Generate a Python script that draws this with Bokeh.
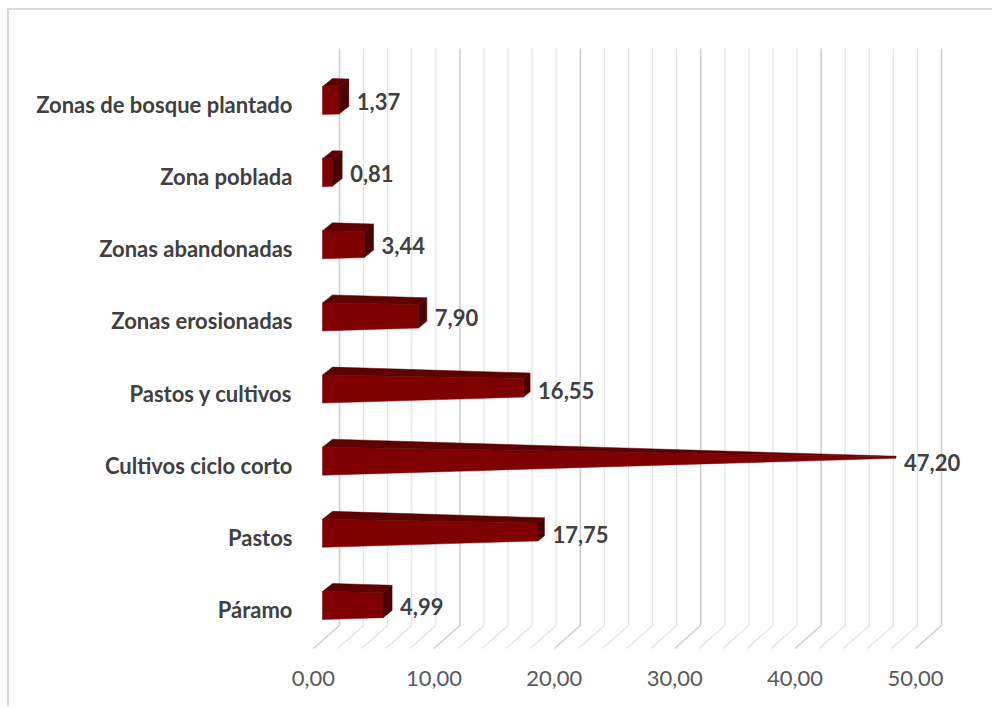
from bokeh.plotting import figure
from bokeh.models import Range1d, FixedTicker, ColumnDataSource
from bokeh.core.properties import value
from bokeh.embed import file_html
from bokeh.resources import INLINE

# ---- data ----
categories = ["Páramo", "Pastos", "Cultivos ciclo corto", "Pastos y cultivos",
              "Zonas erosionadas", "Zonas abandonadas", "Zona poblada",
              "Zonas de bosque plantado"]
values = [4.99, 17.75, 47.20, 16.55, 7.90, 3.44, 0.81, 1.37]
value_labels = ["4,99", "17,75", "47,20", "16,55", "7,90", "3,44", "0,81", "1,37"]
x_ticks = [0, 10, 20, 30, 40, 50]
x_tick_labels = ["0,00", "10,00", "20,00", "30,00", "40,00", "50,00"]
grid_step = 2
axis_max = 50

# ---- geometry / styling (pixel scale of the frame) ----
PXX = 12.04   # px per value unit
PXY = 72.14   # px per category
FONT = "Lato"

p = figure(width=985, height=698, output_backend="svg", toolbar_location=None,
           x_range=Range1d(-10 / PXX, 681 / PXX),
           y_range=Range1d(-46 / PXY, 579 / PXY),
           min_border_left=294, min_border_right=0,
           min_border_top=20, min_border_bottom=53)
p.styles = {"margin-left": "7px", "margin-top": "8px",
            "border-left": "2px solid #d9d9d9", "border-top": "2px solid #d9d9d9"}
p.outline_line_color = None
p.xgrid.grid_line_color = None
p.ygrid.grid_line_color = None
p.background_fill_color = "white"
p.border_fill_color = "white"

# ---- 3D floor + back wall gridlines ----
dx_wall = 26 / PXX
y_front = -39 / PXY
y_back = -16 / PXY
y_top = 561 / PXY
gx = list(range(0, axis_max + 1, grid_step))
maj = [g for g in gx if g % 10 == 0]
mnr = [g for g in gx if g % 10 != 0]
for group, col, lw in ((mnr, "#e3e3e3", 1.2), (maj, "#cfcfcf", 1.6)):
    xs = [[g, g + dx_wall, g + dx_wall] for g in group]
    ys = [[y_front, y_back, y_top] for g in group]
    p.multi_line(xs=xs, ys=ys, line_color=col, line_width=lw)

# ---- 3D pyramid bars (apex at axis max) ----
x0 = 9 / PXX           # bar front face start offset
ddx = 10 / PXX         # depth offset x
ddy = 8 / PXY          # depth offset y
h0 = 14 / PXY          # half height of front face at base
yc_off = 4 / PXY       # front-face centre above label centre

front_xs, front_ys, top_xs, top_ys, cap_xs, cap_ys = [], [], [], [], [], []
lab_x, lab_y = [], []
for i, v in enumerate(values):
    s = (axis_max - v) / axis_max
    cx = x0 + ddx / 2
    cy = i + yc_off + ddy / 2
    fl_x = cx - ddx / 2
    fr_x = cx + v - ddx / 2 * s
    fl_yc = cy - ddy / 2
    fr_yc = cy - ddy / 2 * s
    front_xs.append([fl_x, fr_x, fr_x, fl_x])
    front_ys.append([fl_yc - h0, fr_yc - h0 * s, fr_yc + h0 * s, fl_yc + h0])
    bl_x = cx + ddx / 2
    br_x = cx + v + ddx / 2 * s
    bl_yc = cy + ddy / 2
    br_yc = cy + ddy / 2 * s
    top_xs.append([fl_x, fr_x, br_x, bl_x])
    top_ys.append([fl_yc + h0, fr_yc + h0 * s, br_yc + h0 * s, bl_yc + h0])
    cap_xs.append([fr_x, fr_x, br_x, br_x])
    cap_ys.append([fr_yc + h0 * s, fr_yc - h0 * s, br_yc - h0 * s, br_yc + h0 * s])
    lab_x.append(br_x)
    lab_y.append(i + 3 / PXY)

p.patches(xs=front_xs, ys=front_ys, fill_color="#7f0000", line_color="#7f0000", line_width=0.5)
p.patches(xs=top_xs, ys=top_ys, fill_color="#5e0000", line_color="#5e0000", line_width=0.5)
p.patches(xs=cap_xs, ys=cap_ys, fill_color="#4a0000", line_color="#4a0000", line_width=0.5)

src = ColumnDataSource(dict(x=lab_x, y=lab_y, t=value_labels))
p.text(x="x", y="y", text="t", source=src, x_offset=8, text_baseline="middle",
       text_align="left", text_font=value(FONT), text_font_style="bold",
       text_font_size="22px", text_color="#404040")

# ---- axes ----
p.xaxis.ticker = FixedTicker(ticks=x_ticks)
p.xaxis.major_label_overrides = {t: l for t, l in zip(x_ticks, x_tick_labels)}
p.xaxis.axis_line_color = None
p.xaxis.major_tick_line_color = None
p.xaxis.minor_tick_line_color = None
p.xaxis.major_label_standoff = 9
p.xaxis.major_label_text_font = FONT
p.xaxis.major_label_text_font_size = "22px"
p.xaxis.major_label_text_color = "#595959"

p.yaxis.ticker = FixedTicker(ticks=list(range(len(categories))))
p.yaxis.major_label_overrides = {i: c for i, c in enumerate(categories)}
p.yaxis.axis_line_color = None
p.yaxis.major_tick_line_color = None
p.yaxis.minor_tick_line_color = None
p.yaxis.major_label_standoff = 5
p.yaxis.major_label_text_font = FONT
p.yaxis.major_label_text_font_style = "bold"
p.yaxis.major_label_text_font_size = "22px"
p.yaxis.major_label_text_color = "#404040"

open("out.html", "w").write(file_html(p, INLINE))
